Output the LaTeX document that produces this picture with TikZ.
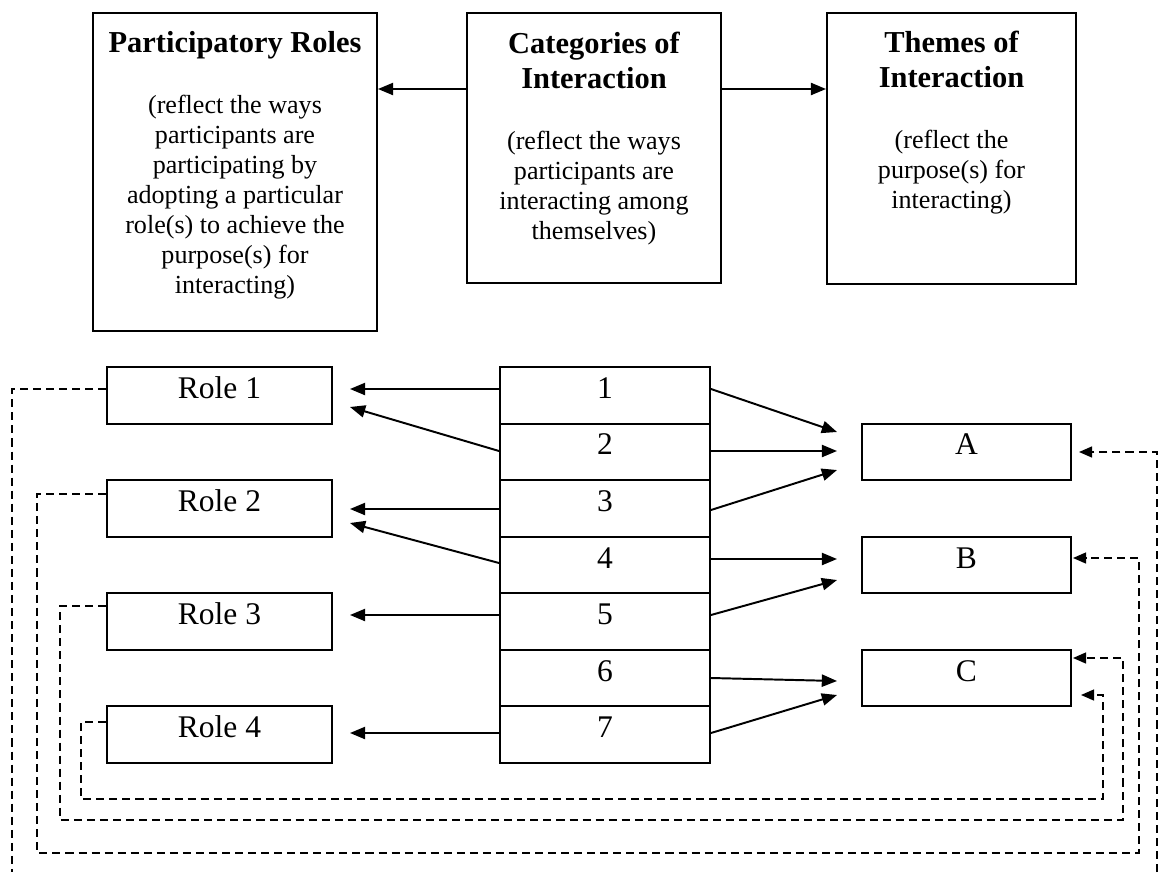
\documentclass[tikz,border=0pt]{standalone}
\usepackage{fontspec}
\setmainfont{Liberation Serif}
\usetikzlibrary{arrows.meta,calc}
% one drawing unit = one pixel of the layout grid
\newcommand{\pxu}{0.46pt}
% body text of the upper boxes
\newcommand{\notefont}{\fontsize{12}{13.8}\selectfont}
\begin{document}
\begin{tikzpicture}[x=0.46pt,y=-0.46pt,
  frame/.style={draw, line width=0.9pt, inner sep=0pt},
  cellbox/.style={frame, font=\fontsize{14.5}{16.1}\selectfont,
    text height=9.66pt, text depth=6.9pt},
  heading/.style={font=\bfseries\fontsize{14}{16.1}\selectfont,
    align=center, inner sep=0pt, anchor=north},
  note/.style={font=\notefont, align=center, inner sep=0pt, anchor=north},
  link/.style={line width=0.9pt, -{Triangle[length=7pt,width=5.6pt]}},
  back/.style={line width=0.8pt, dash pattern=on 3.7pt off 2.3pt},
  backarrow/.style={back, -{Triangle[length=6pt,width=5pt]}}
]
\fill[white] (0,0) rectangle (1158,889);
\useasboundingbox (0,0) rectangle (1158,889);

% upper row of descriptive boxes
\node[frame, minimum width=284*\pxu, minimum height=318*\pxu] (pr) at (235,172) {};
\node[frame, minimum width=254*\pxu, minimum height=270*\pxu] (cat) at (594,148) {};
\node[frame, minimum width=249*\pxu, minimum height=271*\pxu] (thm) at (951.5,148.5) {};

\node[heading] (prH) at (235,31) {Participatory Roles};
\node[note] (prN) at (235,95) {(reflect the ways\\participants are\\participating by\\adopting a particular\\role(s) to achieve the\\purpose(s) for\\interacting)};
\node[heading] (catH) at (594,32) {Categories of\\Interaction};
\node[note] (catN) at (594,131) {(reflect the ways\\participants are\\interacting among\\themselves)};
\node[heading] (thmH) at (951.5,31) {Themes of\\Interaction};
\node[note] (thmN) at (951.5,130) {(reflect the\\purpose(s) for\\interacting)};

\draw[link] (cat.west |- 0,89) -- (pr.east |- 0,89);
\draw[link] (cat.east |- 0,89) -- (thm.west |- 0,89);

% roles
\node[cellbox, minimum width=225*\pxu, minimum height=56.6*\pxu] (R1) at (219.5,395.3) {Role 1};
\node[cellbox, minimum width=225*\pxu, minimum height=56.6*\pxu] (R2) at (219.5,508.4) {Role 2};
\node[cellbox, minimum width=225*\pxu, minimum height=56.6*\pxu] (R3) at (219.5,621.6) {Role 3};
\node[cellbox, minimum width=225*\pxu, minimum height=56.6*\pxu] (R4) at (219.5,734.7) {Role 4};

% interaction categories
\node[cellbox, minimum width=210*\pxu, minimum height=56.6*\pxu] (c1) at (605,395.3) {1};
\node[cellbox, minimum width=210*\pxu, minimum height=56.6*\pxu] (c2) at (605,451.9) {2};
\node[cellbox, minimum width=210*\pxu, minimum height=56.6*\pxu] (c3) at (605,508.4) {3};
\node[cellbox, minimum width=210*\pxu, minimum height=56.6*\pxu] (c4) at (605,565.0) {4};
\node[cellbox, minimum width=210*\pxu, minimum height=56.6*\pxu] (c5) at (605,621.6) {5};
\node[cellbox, minimum width=210*\pxu, minimum height=56.6*\pxu] (c6) at (605,678.1) {6};
\node[cellbox, minimum width=210*\pxu, minimum height=56.6*\pxu] (c7) at (605,734.7) {7};

% themes
\node[cellbox, minimum width=209*\pxu, minimum height=56.6*\pxu] (A) at (966.5,451.9) {A};
\node[cellbox, minimum width=209*\pxu, minimum height=56.6*\pxu] (B) at (966.5,565.0) {B};
\node[cellbox, minimum width=209*\pxu, minimum height=56.6*\pxu] (C) at (966.5,678.1) {C};

% categories to roles
\draw[link] (c1.west |- 0,389) -- ($(R1.east |- 0,389)+(17,0)$);
\draw[link] (c2.west |- 0,451) -- ($(R1.east |- 0,407)+(17,0)$);
\draw[link] (c3.west |- 0,509) -- ($(R2.east |- 0,509)+(17,0)$);
\draw[link] (c4.west |- 0,563) -- ($(R2.east |- 0,523)+(17,0)$);
\draw[link] (c5.west |- 0,615) -- ($(R3.east |- 0,615)+(17,0)$);
\draw[link] (c7.west |- 0,733) -- ($(R4.east |- 0,733)+(17,0)$);

% categories to themes
\draw[link] (c1.east |- 0,389) -- ($(A.west |- 0,432)+(-24,0)$);
\draw[link] (c2.east |- 0,451) -- ($(A.west |- 0,451)+(-24,0)$);
\draw[link] (c3.east |- 0,510) -- ($(A.west |- 0,470)+(-24,0)$);
\draw[link] (c4.east |- 0,559) -- ($(B.west |- 0,559)+(-24,0)$);
\draw[link] (c5.east |- 0,615) -- ($(B.west |- 0,580)+(-24,0)$);
\draw[link] (c6.east |- 0,678) -- ($(C.west |- 0,681)+(-24,0)$);
\draw[link] (c7.east |- 0,733) -- ($(C.west |- 0,695)+(-24,0)$);

% feedback loops from roles back to themes
\coordinate (Lend) at (12,872);
\coordinate (Rend) at (1157,872);
\draw[back] (R1.west |- 0,389) -| (Lend);
\draw[backarrow] (Rend) |- ($(A.east |- 0,452)+(7,0)$);
\draw[backarrow] (R2.west |- 0,494) -| (37,853) -| (1139,558) -- ($(B.east |- 0,558)+(1,0)$);
\draw[backarrow] (R3.west |- 0,606) -| (60,820) -| (1123,658) -- ($(C.east |- 0,658)+(1,0)$);
\draw[backarrow] (R4.west |- 0,722) -| (81,799) -| (1103,695) -- ($(C.east |- 0,695)+(9,0)$);
\end{tikzpicture}
\end{document}
